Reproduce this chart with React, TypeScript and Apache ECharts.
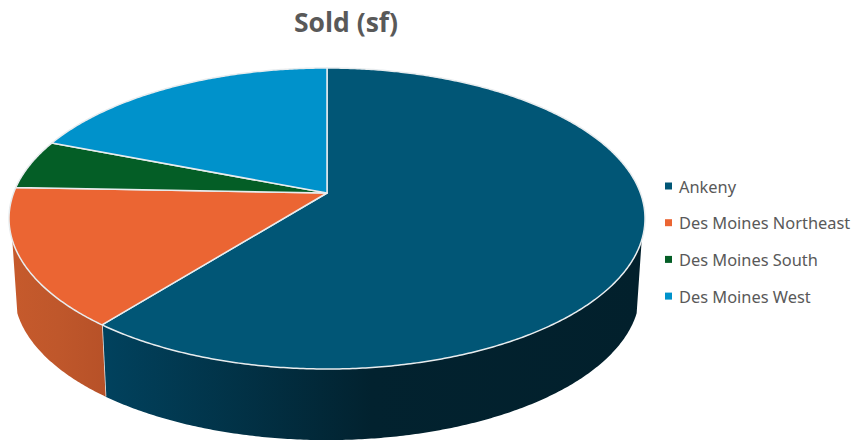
import React, { useEffect, useRef } from "react";
import * as echarts from "echarts";

const categories = ["Ankeny", "Des Moines Northeast", "Des Moines South", "Des Moines West"];
const soldSf = [607, 149, 53, 191];
const faceColors = ["#015676", "#EB6533", "#045E26", "#0092CB"];
const wallStops = [
  ["#01425E", "#02222F", "#02202C"],
  ["#C65A2C", "#BF572B", "#B75128"],
  ["#034A1E", "#034A1E", "#034A1E"],
  ["#00739F", "#00739F", "#00739F"],
];

// Perspective disc: screen position of a rim point at a clockwise angle from 12 o'clock.
const CX = 327;
const TOP = { a: 113.5, b: 193, d: 313.4, midY: 218.5, scale: 1, shift: 0 };
const BASE = { a: 113.5, b: 193, d: 313.4, midY: 218.5, scale: 0.984, shift: 73.5 };
const C = -0.1694;

type Disc = typeof TOP;

function rimPoint(deg: number, disc: Disc, radius = 1): number[] {
  const rad = (deg * Math.PI) / 180;
  const s = Math.sin(rad) * radius;
  const t = -Math.cos(rad) * radius;
  const w = C * t + 1;
  const x = CX + (disc.scale * disc.d * s) / w;
  const y = disc.midY + disc.shift + disc.scale * ((disc.a * t + disc.b) / w - disc.midY);
  return [x, y];
}

function arcPoints(from: number, to: number, disc: Disc): number[][] {
  const pts: number[][] = [];
  const steps = Math.max(2, Math.ceil(Math.abs(to - from) * 2));
  for (let i = 0; i <= steps; i++) pts.push(rimPoint(from + ((to - from) * i) / steps, disc));
  return pts;
}

const total = soldSf.reduce((acc, v) => acc + v, 0);
const startAngles = soldSf.map((_, i) =>
  (soldSf.slice(0, i).reduce((acc, v) => acc + v, 0) / total) * 360
);

// Only the front of the cylinder is visible, between the two silhouette angles.
const WALL_FROM = 107.8;
const WALL_TO = 252.2;

function renderSlice(index: number) {
  return () => {
    const from = startAngles[index];
    const to = from + (soldSf[index] / total) * 360;
    const children: any[] = [];
    const wFrom = Math.max(from, WALL_FROM);
    const wTo = Math.min(to, WALL_TO);
    if (wTo > wFrom) {
      const upper = arcPoints(wFrom, wTo, TOP);
      const lower = arcPoints(wFrom, wTo, BASE);
      const xs = upper.concat(lower).map((p) => p[0]);
      const minX = Math.min(...xs);
      const maxX = Math.max(...xs);
      children.push({
        type: "polygon",
        shape: { points: upper.concat(lower.slice().reverse()) },
        style: {
          fill: new echarts.graphic.LinearGradient(
            minX, 0, maxX, 0,
            [
              { offset: 0, color: wallStops[index][0] },
              { offset: 0.5, color: wallStops[index][1] },
              { offset: 1, color: wallStops[index][2] },
            ],
            true
          ),
          stroke: null,
        },
      });
      if (wTo < WALL_TO) {
        children.push({
          type: "line",
          shape: {
            x1: rimPoint(wTo, TOP)[0], y1: rimPoint(wTo, TOP)[1],
            x2: rimPoint(wTo, BASE)[0], y2: rimPoint(wTo, BASE)[1],
          },
          style: { stroke: "#E4E8EA", lineWidth: 1.5 },
        });
      }
    }
    children.push({
      type: "polygon",
      shape: { points: [[CX, TOP.b], ...arcPoints(from, to, TOP)] },
      style: { fill: faceColors[index], stroke: "#E8ECEE", lineWidth: 1.5, lineJoin: "round" },
    });
    return { type: "group", children };
  };
}

export default function App() {
  const ref = useRef<HTMLDivElement>(null);
  useEffect(() => {
    const chart = echarts.init(ref.current!, undefined, { renderer: "svg" });
    chart.setOption({
      animation: false,
      backgroundColor: "#FFFFFF",
      title: {
        text: "Sold (sf)",
        left: 341,
        top: 3,
        textAlign: "center",
        textStyle: { color: "#595959", fontFamily: "Open Sans", fontWeight: "bold", fontSize: 26.5 },
      },
      legend: {
        orient: "vertical",
        left: 660,
        top: 172,
        itemWidth: 7,
        itemHeight: 7,
        itemGap: 18.7,
        icon: "rect",
        data: categories,
        textStyle: { color: "#595959", fontFamily: "Noto Sans", fontSize: 16.4, padding: [0, 0, 0, 2], lineHeight: 18 },
      },
      series: categories.map((name, i) => ({
        type: "custom",
        name,
        coordinateSystem: "none",
        data: [soldSf[i]],
        itemStyle: { color: faceColors[i] },
        renderItem: renderSlice(i),
        silent: true,
      })),
    });
    return () => chart.dispose();
  }, []);
  return <div ref={ref} style={{ position: "absolute", left: 0, top: 0, width: 854, height: 441 }} />;
}
